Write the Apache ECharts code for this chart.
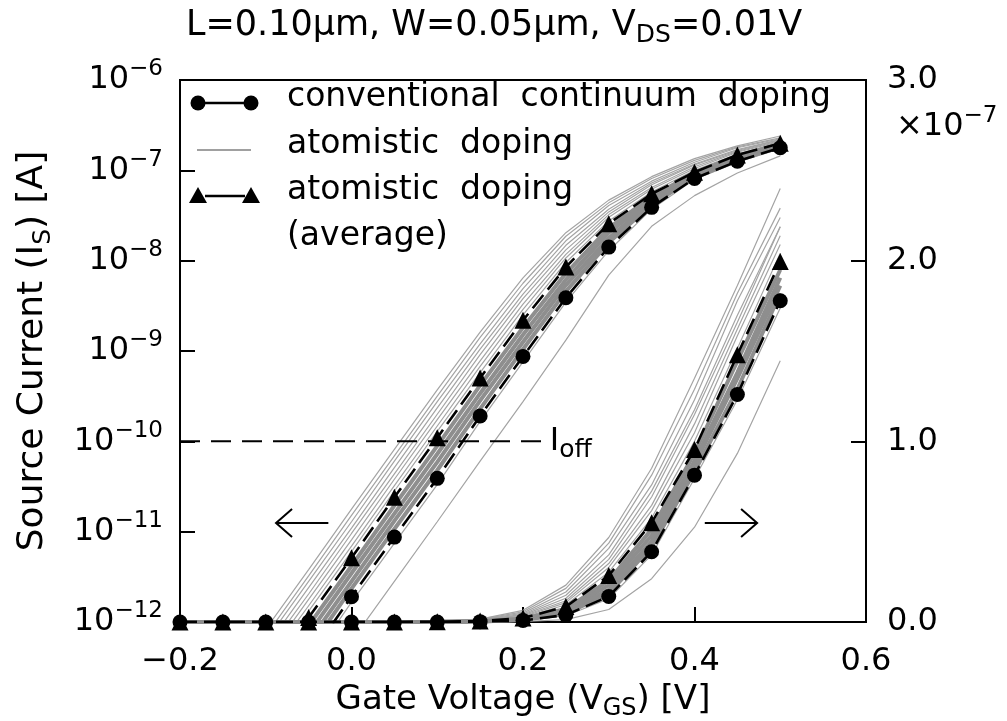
<!DOCTYPE html>
<html><head><meta charset="utf-8">
<script src="https://cdn.jsdelivr.net/npm/echarts@6/dist/echarts.min.js"></script>
<style>html,body{margin:0;padding:0;background:#fff}#c{width:1007px;height:721px}</style>
</head><body><div id="c"></div>
<script>
// ---- data (log10 of source current in A) ----
const gateVoltage = [-0.2,-0.15,-0.1,-0.05,0,0.05,0.1,0.15,0.2,0.25,0.3,0.35,0.4,0.45,0.5];
const logConventional = [-14.40,-13.70,-13.05,-12.40,-11.72,-11.06,-10.41,-9.72,-9.06,-8.41,-7.85,-7.41,-7.09,-6.90,-6.75];
const logAtomisticAverage = [-13.90,-13.25,-12.60,-11.95,-11.29,-10.62,-9.96,-9.30,-8.66,-8.07,-7.59,-7.26,-7.02,-6.83,-6.70];
const atomRun01 = [-13.84,-13.19,-12.54,-11.88,-11.22,-10.55,-9.89,-9.24,-8.60,-8.02,-7.56,-7.24,-7.00,-6.82,-6.69];
const atomRun02 = [-13.77,-13.12,-12.47,-11.82,-11.16,-10.49,-9.83,-9.17,-8.54,-7.97,-7.52,-7.21,-6.98,-6.80,-6.68];
const atomRun03 = [-13.71,-13.06,-12.41,-11.75,-11.09,-10.42,-9.76,-9.11,-8.48,-7.93,-7.49,-7.19,-6.96,-6.79,-6.67];
const atomRun04 = [-13.64,-12.99,-12.34,-11.69,-11.02,-10.36,-9.70,-9.04,-8.42,-7.88,-7.46,-7.16,-6.94,-6.78,-6.66];
const atomRun05 = [-13.58,-12.93,-12.28,-11.62,-10.96,-10.29,-9.63,-8.98,-8.37,-7.83,-7.43,-7.14,-6.93,-6.77,-6.66];
const atomRun06 = [-13.51,-12.86,-12.21,-11.55,-10.89,-10.22,-9.56,-8.92,-8.31,-7.78,-7.39,-7.12,-6.91,-6.75,-6.65];
const atomRun07 = [-13.45,-12.80,-12.15,-11.49,-10.82,-10.16,-9.50,-8.85,-8.25,-7.73,-7.36,-7.09,-6.89,-6.74,-6.64];
const atomRun08 = [-13.38,-12.73,-12.08,-11.42,-10.75,-10.09,-9.43,-8.79,-8.19,-7.69,-7.33,-7.07,-6.87,-6.73,-6.62];
const atomRun09 = [-14.00,-13.34,-12.69,-12.04,-11.38,-10.71,-10.05,-9.38,-8.74,-8.14,-7.64,-7.29,-7.03,-6.84,-6.71];
const atomRun10 = [-14.10,-13.43,-12.78,-12.13,-11.46,-10.80,-10.14,-9.47,-8.82,-8.21,-7.69,-7.32,-7.05,-6.86,-6.72];
const atomRun11 = [-14.20,-13.52,-12.87,-12.22,-11.55,-10.88,-10.23,-9.55,-8.90,-8.27,-7.75,-7.35,-7.06,-6.87,-6.73];
const atomRun12 = [-14.30,-13.61,-12.96,-12.31,-11.63,-10.97,-10.32,-9.64,-8.98,-8.34,-7.80,-7.38,-7.08,-6.89,-6.74];
const atomRun13 = [-14.48,-13.77,-13.12,-12.47,-11.78,-11.13,-10.48,-9.78,-9.12,-8.46,-7.89,-7.43,-7.10,-6.91,-6.76];
const atomRun14 = [-14.81,-14.16,-13.51,-12.86,-12.21,-11.55,-10.89,-10.22,-9.56,-8.88,-8.16,-7.62,-7.28,-7.03,-6.84];
const outerRuns = [atomRun01,atomRun02,atomRun03,atomRun04,atomRun05,atomRun06,atomRun07,atomRun08,atomRun13,atomRun14];
const bandRuns = [atomRun09,atomRun10,atomRun11,atomRun12];
const offCurrentLevel = 1e-10;
const offLineVoltage = [-0.2, 0.229];
const leftArrowV = [-0.027, -0.088];
const rightArrowV = [0.412, 0.473];
const arrowCurrent = 1.25e-11;
const xTicks = { min: -0.2, max: 0.6, step: 0.2 };
const leftLog = { min: 1e-12, max: 1e-6 };
const rightLin = { min: 0, max: 3e-7, step: 1e-7 };

const FONT = 'DejaVu Sans';
const toPts = arr => arr.map((e, i) => [gateVoltage[i], Math.pow(10, e)]);
const series = [];
function addPair(arr, opt) {
  [0, 1].forEach(ax => series.push(Object.assign({
    type: 'line', yAxisIndex: ax, data: toPts(arr), animation: false, silent: true
  }, JSON.parse(JSON.stringify(opt)))));
}
outerRuns.forEach(r => addPair(r, { symbol: 'none', z: 1, lineStyle: { color: '#a4a4a4', width: 1.2 } }));
bandRuns.forEach(r => addPair(r, { symbol: 'none', z: 1, lineStyle: { color: '#8e8e8e', width: 4 } }));
addPair(logConventional, { symbol: 'circle', symbolSize: 15, z: 5, itemStyle: { color: '#000' },
  lineStyle: { color: '#000', width: 2.6, type: [17, 7] } });
addPair(logAtomisticAverage, { symbol: 'triangle', symbolSize: 17, z: 5, itemStyle: { color: '#000' },
  lineStyle: { color: '#000', width: 2.6, type: [17, 7] } });
series.push({
  type: 'line', yAxisIndex: 0, symbol: 'none', z: 4, silent: true,
  data: offLineVoltage.map(v => [v, offCurrentLevel]),
  lineStyle: { color: '#000', width: 2, type: [20, 11] },
  endLabel: { show: true, distance: 2, formatter: '{i|I}{o|off}',
    rich: { i: { fontFamily: FONT, fontSize: 32, lineHeight: 44, color: '#000' },
            o: { fontFamily: FONT, fontSize: 25, lineHeight: 24, verticalAlign: 'bottom', color: '#000' } } }
});

const chart = echarts.init(document.getElementById('c'), null, { renderer: 'canvas' });
const supRich = {
  b: { fontFamily: FONT, fontSize: 32, color: '#000', lineHeight: 44 },
  s: { fontFamily: FONT, fontSize: 23, color: '#000', lineHeight: 22, verticalAlign: 'top' }
};
const subRich = {
  a: { fontFamily: FONT, fontSize: 34, color: '#000', lineHeight: 42 },
  s: { fontFamily: FONT, fontSize: 24, color: '#000', lineHeight: 22, verticalAlign: 'bottom' }
};
const option = {
  backgroundColor: '#fff',
  animation: false,
  title: {
    text: '{a|L=0.10μm, W=0.05μm, V}{s|DS}{a|=0.01V}',
    left: 181, top: -1,
    textStyle: { fontWeight: 'normal', rich: {
      a: { fontFamily: FONT, fontSize: 35, fontWeight: 'normal', color: '#000', lineHeight: 44 },
      s: { fontFamily: FONT, fontSize: 25, fontWeight: 'normal', color: '#000', lineHeight: 22, verticalAlign: 'bottom' } } }
  },
  grid: { left: 180, right: 141, top: 80, bottom: 99, containLabel: false, outerBoundsMode: 'none',
    show: true, borderColor: '#000', borderWidth: 2, backgroundColor: 'transparent' },
  xAxis: {
    type: 'value', min: xTicks.min, max: xTicks.max, interval: xTicks.step,
    axisLine: { onZero: false, lineStyle: { color: '#000', width: 2 } },
    axisTick: { inside: true, length: 15, lineStyle: { color: '#000', width: 2 } },
    splitLine: { show: false },
    axisLabel: { fontFamily: FONT, fontSize: 32, color: '#000', margin: 24,
      formatter: v => (v < 0 ? '−' : '') + Math.abs(v).toFixed(1) },
    name: '{a|Gate Voltage (V}{s|GS}{a|) [V]}', nameLocation: 'middle', nameGap: 52,
    nameTextStyle: { rich: subRich }
  },
  yAxis: [{
    type: 'log', logBase: 10, min: leftLog.min, max: leftLog.max, position: 'left',
    axisLine: { onZero: false, lineStyle: { color: '#000', width: 2 } },
    axisTick: { inside: true, length: 15, lineStyle: { color: '#000', width: 2 } },
    minorTick: { show: false }, splitLine: { show: false },
    axisLabel: { margin: 17, rich: supRich,
      formatter: v => { const e = Math.round(Math.log10(v)); return '{b|10}{s|' + (e < 0 ? '−' : '') + Math.abs(e) + '}'; } },
    name: '{a|Source Current (I}{s|S}{a|) [A]}', nameLocation: 'middle', nameGap: 124, nameRotate: 90,
    nameTextStyle: { rich: {
      a: { fontFamily: FONT, fontSize: 36, color: '#000', lineHeight: 46 },
      s: { fontFamily: FONT, fontSize: 25, color: '#000', lineHeight: 24, verticalAlign: 'bottom' } } }
  }, {
    type: 'value', min: rightLin.min, max: rightLin.max, interval: rightLin.step, position: 'right',
    axisLine: { show: true, onZero: false, lineStyle: { color: '#000', width: 2 } },
    axisTick: { inside: true, length: 15, lineStyle: { color: '#000', width: 2 } },
    splitLine: { show: false },
    axisLabel: { fontFamily: FONT, fontSize: 32, color: '#000', margin: 21,
      formatter: v => (v / 1e-7).toFixed(1) }
  }],
  series: series
};
chart.setOption(option);

// ---- annotations: legend, arrows, scale factor ----
const px = (v, i) => chart.convertToPixel({ xAxisIndex: 0, yAxisIndex: 0 }, [v, i]);
function arrow(fromV, toV) {
  const a = px(fromV, arrowCurrent), b = px(toV, arrowCurrent);
  const dir = Math.sign(b[0] - a[0]);
  return [
    { type: 'line', shape: { x1: a[0], y1: a[1], x2: b[0], y2: b[1] }, style: { stroke: '#000', lineWidth: 2 } },
    { type: 'polyline', shape: { points: [[b[0] - dir * 16, b[1] - 14], [b[0], b[1]], [b[0] - dir * 16, b[1] + 14]] },
      style: { stroke: '#000', lineWidth: 2, fill: null } }
  ];
}
const tri = (cx, cy) => ({ type: 'polygon', shape: { points: [[cx, cy - 9], [cx + 9, cy + 7], [cx - 9, cy + 7]] }, style: { fill: '#000' } });
const legendFont = { fontFamily: FONT, fontSize: 33, fill: '#000' };
const legendRows = ['conventional  continuum  doping', 'atomistic  doping', 'atomistic  doping', '(average)'];
const rowY = [103, 150, 196, 242];
const g = [];
legendRows.forEach((t, k) => g.push({ type: 'text', left: 287, top: rowY[k] - 22, style: Object.assign({ text: t }, legendFont) }));
g.push({ type: 'line', shape: { x1: 205, y1: 103, x2: 245, y2: 103 }, style: { stroke: '#000', lineWidth: 2.6 } });
g.push({ type: 'circle', shape: { cx: 198, cy: 103, r: 7.5 }, style: { fill: '#000' } });
g.push({ type: 'circle', shape: { cx: 251, cy: 103, r: 7.5 }, style: { fill: '#000' } });
g.push({ type: 'line', shape: { x1: 197, y1: 150, x2: 251, y2: 150 }, style: { stroke: '#a0a0a0', lineWidth: 2 } });
g.push({ type: 'line', shape: { x1: 205, y1: 196, x2: 245, y2: 196 }, style: { stroke: '#000', lineWidth: 2.6 } });
g.push(tri(198, 196)); g.push(tri(251, 196));
g.push(...arrow(leftArrowV[0], leftArrowV[1]));
g.push(...arrow(rightArrowV[0], rightArrowV[1]));
g.push({ type: 'text', left: 896, top: 105, style: { text: '{b|×10}{s|−7}', rich: supRich } });
chart.setOption({ graphic: g });
</script></body></html>
